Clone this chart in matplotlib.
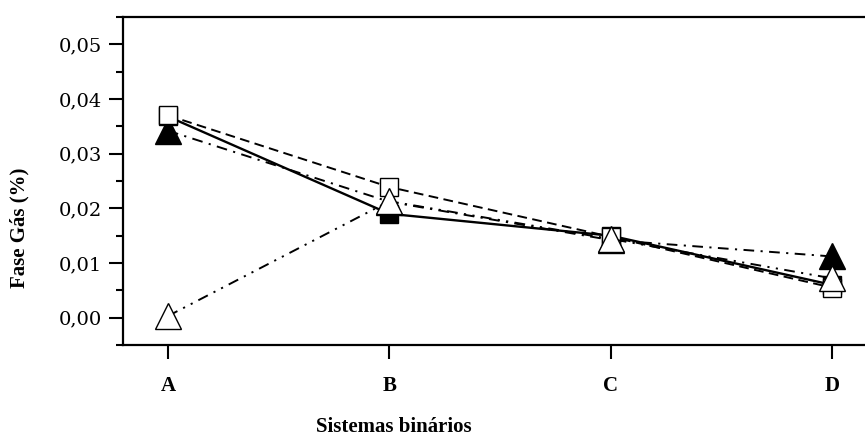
import matplotlib
matplotlib.use("Agg")
import matplotlib.pyplot as plt
from matplotlib.ticker import MultipleLocator, FuncFormatter

systems = ["A", "B", "C", "D"]
filled_square = [0.0368, 0.0190, 0.0150, 0.0060]
open_square = [0.0370, 0.0239, 0.0148, 0.0055]
filled_triangle = [0.0342, 0.0212, 0.0142, 0.0112]
open_triangle = [0.0003, 0.0213, 0.0144, 0.0072]

plt.rcParams["font.family"] = ["Liberation Serif", "DejaVu Serif"]

fig = plt.figure(figsize=(8.65, 4.41), dpi=100)
ax = fig.add_axes([123 / 865, 96 / 441, 742 / 865, 328 / 441])

x = list(range(len(systems)))
lw = 1.4
ax.plot(x, filled_square, linestyle="-", color="black", lw=1.7,
        marker="s", markersize=13, markerfacecolor="black",
        markeredgecolor="black", markeredgewidth=1.0, zorder=3)
ax.plot(x, filled_triangle, linestyle=(0, (5.5, 3.3, 1.1, 3.3)), color="black", lw=lw,
        marker="^", markersize=19, markerfacecolor="black",
        markeredgecolor="black", markeredgewidth=1.0, zorder=4)
ax.plot(x, open_square, linestyle=(0, (5, 2.8)), color="black", lw=lw,
        marker="s", markersize=13, markerfacecolor="white",
        markeredgecolor="black", markeredgewidth=1.0, zorder=5)
ax.plot(x, open_triangle, linestyle=(0, (5.5, 3.3, 1.1, 3.3, 1.1, 3.3)), color="black", lw=lw,
        marker="^", markersize=19, markerfacecolor="white",
        markeredgecolor="black", markeredgewidth=1.0, zorder=6)

ax.set_xlim(-0.203, 3.149)
ax.set_ylim(-0.005, 0.055)

ax.set_xticks(x)
ax.set_xticklabels(systems, fontweight="bold", fontsize=15)
ax.yaxis.set_major_locator(MultipleLocator(0.01))
ax.yaxis.set_minor_locator(MultipleLocator(0.005))
ax.yaxis.set_major_formatter(FuncFormatter(lambda v, p: f"{v:.2f}".replace(".", ",")))
ax.tick_params(axis="y", which="major", direction="out", length=10, width=1.5,
               labelsize=14, pad=5)
for lab in ax.get_yticklabels():
    lab.set_family(["DejaVu Serif"])
ax.tick_params(axis="y", which="minor", direction="out", length=5, width=1.5)
ax.tick_params(axis="x", which="major", direction="out", length=10, width=1.5,
               pad=12)

for side in ("left", "bottom", "top"):
    ax.spines[side].set_linewidth(1.6)
ax.spines["right"].set_visible(False)

ax.set_xlabel("Sistemas binários", fontweight="bold", fontsize=15)
ax.xaxis.set_label_coords(0.365, -0.25)
ax.xaxis.label.set_verticalalignment("center")
ax.set_ylabel("Fase Gás (%)", fontweight="bold", fontsize=15)
ax.yaxis.set_label_coords(-0.139, 0.357)
ax.yaxis.label.set_verticalalignment("center")

fig.savefig("out.png", dpi=100)
